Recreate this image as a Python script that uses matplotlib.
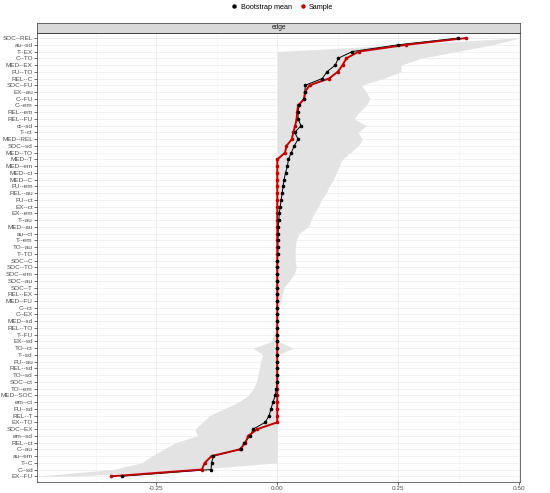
import numpy as np
import matplotlib
matplotlib.use("Agg")
import matplotlib.pyplot as plt
from matplotlib.lines import Line2D

plt.rcParams["font.family"] = ["Liberation Sans", "DejaVu Sans"]

# ---------------------------------------------------------------- data
edges = ["SOC--REL", "au--sd", "T--EX", "C--TO", "MED--EX", "FU--TO", "REL--C",
         "SOC--FU", "EX--au", "C--FU", "C--em", "REL--em", "REL--FU", "ct--sd",
         "T--ct", "MED--REL", "SOC--sd", "MED--TO", "MED--T", "MED--em",
         "MED--ct", "MED--C", "FU--em", "REL--au", "FU--ct", "EX--ct", "EX--em",
         "T--au", "MED--au", "au--ct", "T--em", "TO--au", "T--TO", "SOC--C",
         "SOC--TO", "SOC--em", "SOC--au", "SOC--T", "REL--EX", "MED--FU",
         "C--ct", "C--EX", "MED--sd", "REL--TO", "T--FU", "EX--sd", "TO--ct",
         "T--sd", "FU--au", "REL--sd", "TO--sd", "SOC--ct", "TO--em",
         "MED--SOC", "em--ct", "FU--sd", "REL--T", "EX--TO", "SOC--EX",
         "em--sd", "REL--ct", "C--au", "au--em", "T--C", "C--sd", "EX--FU"]

sample = ([0.391, 0.267, 0.169, 0.143, 0.135, 0.125, 0.107, 0.067, 0.057,
           0.056, 0.043, 0.041, 0.040, 0.037, 0.033, 0.030, 0.019, 0.016]
          + [0.0] * 40
          + [-0.041, -0.060, -0.066, -0.077, -0.136, -0.150, -0.156, -0.343])

boot_mean = ([0.374, 0.250, 0.155, 0.126, 0.120, 0.103, 0.093, 0.058, 0.057,
              0.055, 0.045, 0.043, 0.043, 0.049, 0.036, 0.043, 0.035, 0.029,
              0.023, 0.021, 0.017, 0.014, 0.012, 0.010, 0.008, 0.006, 0.004,
              0.003, 0.002, 0.002, 0.001, 0.001, 0.001]
             + [0.0] * 19
             + [-0.002, -0.004, -0.009, -0.013, -0.017, -0.025, -0.050, -0.056,
                -0.068, -0.076, -0.132, -0.136, -0.137, -0.322])

ci_lower = ([0.49, 0.26] + [0.0] * 42
            + [-0.008, -0.012, -0.05, -0.03, -0.035, -0.037, -0.04, -0.043,
               -0.05, -0.06, -0.08, -0.11, -0.14, -0.155, -0.17, -0.165,
               -0.21, -0.235, -0.26, -0.28, -0.34, -0.50])

ci_upper = ([0.50, 0.446, 0.372, 0.298, 0.256, 0.256, 0.219, 0.174, 0.184,
             0.192, 0.184, 0.169, 0.159, 0.184, 0.167, 0.176, 0.167, 0.151,
             0.134, 0.128, 0.122, 0.116, 0.107, 0.101, 0.091, 0.085, 0.076,
             0.070, 0.064, 0.045, 0.039, 0.037, 0.037, 0.037, 0.039, 0.035,
             0.025, 0.014, 0.010, 0.008, 0.002, 0.001, 0.001, 0.001, 0.001,
             0.001, 0.033]
            + [0.0] * 17
            + [-0.17, -0.42])

xticks = [-0.25, 0.0, 0.25, 0.50]
xticklabels = ["-0.25", "0.00", "0.25", "0.50"]

# ---------------------------------------------------------------- figure
rows = np.arange(len(edges))
W, H = 550, 493
fig = plt.figure(figsize=(W / 100, H / 100), dpi=100)

left, right, top, bottom = 37, 520, 33, 482
ax = fig.add_axes([left / W, 1 - bottom / H, (right - left) / W, (bottom - top) / H])
strip = fig.add_axes([left / W, 1 - top / H, (right - left) / W, 10.5 / H])

ax.fill_betweenx(rows, ci_lower, ci_upper, color="#E3E3E3", lw=0, zorder=1)
ax.plot(boot_mean, rows, color="black", lw=0.7, zorder=3)
ax.plot(sample, rows, color="#C00000", lw=1.4, zorder=4)
ax.plot(sample, rows, ls="none", marker="o", ms=1.6, color="#C00000", zorder=5)
ax.plot(boot_mean, rows, ls="none", marker="o", ms=1.6, color="black", zorder=6)

# grid like theme_bw
for r in rows:
    ax.axhline(r, color="#EBEBEB", lw=0.5, zorder=0)
for v in xticks:
    ax.axvline(v, color="#EBEBEB", lw=0.6, zorder=0)
for v in [-0.375, -0.125, 0.125, 0.375]:
    ax.axvline(v, color="#F2F2F2", lw=0.4, zorder=0)

ax.set_xlim(-0.497, 0.502)
ax.set_ylim(65.85, -0.75)
ax.set_yticks(rows)
ax.set_yticklabels(edges)
ax.set_xticks(xticks)
ax.set_xticklabels(xticklabels)
ax.tick_params(axis="both", labelsize=4.6, colors="#333333", length=2,
               width=0.5, pad=1, labelcolor="#4D4D4D")
for s in ax.spines.values():
    s.set_color("#333333")
    s.set_linewidth(0.5)

strip.set_facecolor("#D9D9D9")
strip.set_xticks([])
strip.set_yticks([])
for s in strip.spines.values():
    s.set_color("#333333")
    s.set_linewidth(0.5)
strip.text(0.5, 0.5, "edge", ha="center", va="center", fontsize=4.8,
           color="#1A1A1A", transform=strip.transAxes)

handles = [Line2D([], [], ls="none", marker="o", ms=2.2, color="black"),
           Line2D([], [], ls="none", marker="o", ms=2.2, color="#C00000")]
fig.legend(handles, ["Bootstrap mean", "Sample"], loc="center",
           bbox_to_anchor=(0.513, 1 - 7 / H), ncol=2, frameon=False,
           fontsize=5.2, handletextpad=0.4, columnspacing=1.0, handlelength=1)

fig.savefig("out.png", dpi=100)
